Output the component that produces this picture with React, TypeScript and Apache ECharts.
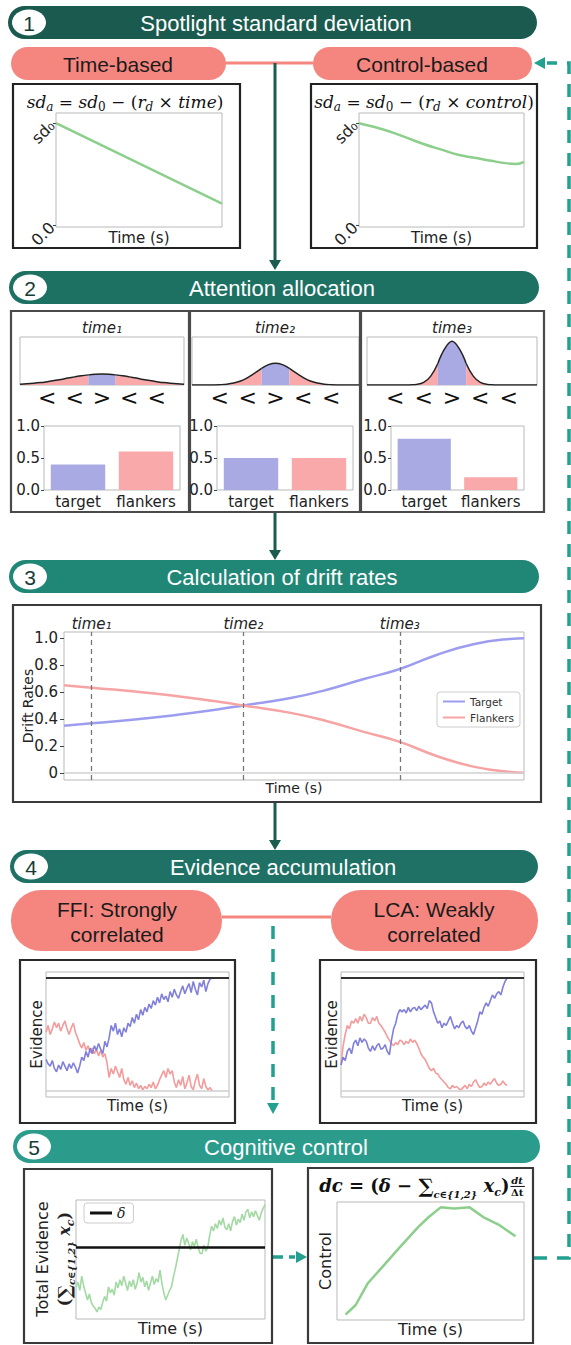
import React, { useEffect, useRef } from "react";
import * as echarts from "echarts";

// ---------------- data ----------------
const sdTime = [0, 1];
const sdTimeBased = [1.0, 0.21];
const sdControlTime = [0, 0.1, 0.2, 0.3, 0.4, 0.5, 0.6, 0.7, 0.8, 0.9, 0.95, 1.0];
const sdControlBased = [1.0, 0.96, 0.91, 0.85, 0.79, 0.74, 0.69, 0.66, 0.63, 0.605, 0.6, 0.62];
const sdTicks = [0, 1];
const sdTickLabels = ["0.0", "sd₀"];

const stimulusX = [-3, -2.75, -2.5, -2.25, -2, -1.75, -1.5, -1.25, -1, -0.75, -0.5, -0.25, 0, 0.25, 0.5, 0.75, 1, 1.25, 1.5, 1.75, 2, 2.25, 2.5, 2.75, 3];
const attentionTime1 = [0.018, 0.027, 0.039, 0.055, 0.077, 0.101, 0.128, 0.158, 0.186, 0.212, 0.232, 0.246, 0.25, 0.246, 0.232, 0.212, 0.186, 0.158, 0.128, 0.101, 0.077, 0.055, 0.039, 0.027, 0.018];
const attentionTime2 = [0, 0, 0, 0.002, 0.007, 0.018, 0.044, 0.092, 0.17, 0.272, 0.382, 0.467, 0.5, 0.467, 0.382, 0.272, 0.17, 0.092, 0.044, 0.018, 0.007, 0.002, 0, 0, 0];
const attentionTime3 = [0, 0, 0, 0, 0, 0, 0.002, 0.012, 0.059, 0.203, 0.493, 0.838, 1.0, 0.838, 0.493, 0.203, 0.059, 0.012, 0.002, 0, 0, 0, 0, 0, 0];
const targetHalfWidth = 0.5;
const stimulusPositions = [-2, -1, 0, 1, 2];
const stimulusArrows = ["<", "<", ">", "<", "<"];
const barCategories = ["target", "flankers"];
const allocationTime1 = [0.4, 0.6];
const allocationTime2 = [0.5, 0.5];
const allocationTime3 = [0.8, 0.2];
const timeLabels = ["time₁", "time₂", "time₃"];

const driftTime = [0, 0.06, 0.18, 0.26, 0.34, 0.39, 0.49, 0.57, 0.65, 0.73, 0.81, 0.89, 0.97, 1.0];
const driftTarget = [0.35, 0.368, 0.405, 0.437, 0.474, 0.5, 0.553, 0.615, 0.694, 0.77, 0.874, 0.953, 0.993, 0.998];
const driftFlankers = [0.65, 0.632, 0.595, 0.563, 0.526, 0.5, 0.447, 0.385, 0.306, 0.23, 0.126, 0.047, 0.007, 0.002];
const markerTimes = [0.06, 0.39, 0.73];
const driftTicks = [0, 0.2, 0.4, 0.6, 0.8, 1.0];

const ffiTarget = [
  0.28, 0.24, 0.22, 0.27, 0.2, 0.17, 0.23, 0.19, 0.26, 0.22,
  0.18, 0.24, 0.2, 0.25, 0.21, 0.16, 0.22, 0.3, 0.27, 0.35,
  0.3, 0.38, 0.33, 0.4, 0.36, 0.42, 0.37, 0.33, 0.44, 0.39,
  0.47, 0.58, 0.53, 0.6, 0.5, 0.55, 0.48, 0.56, 0.52, 0.6,
  0.57, 0.65, 0.6, 0.68, 0.63, 0.72, 0.67, 0.74, 0.7, 0.77,
  0.73, 0.8, 0.76, 0.83, 0.78, 0.86, 0.81, 0.84, 0.79, 0.88,
  0.83, 0.9, 0.85, 0.82, 0.88, 0.93, 0.86, 0.91, 0.95, 0.87,
  0.97, 0.9, 0.85, 0.96, 0.92, 0.98, 0.88, 0.95, 0.99, 1.0,
];
const ffiFlankers = [
  0.52, 0.58, 0.5, 0.55, 0.61, 0.56, 0.6, 0.53, 0.58, 0.62,
  0.55, 0.5, 0.56, 0.6, 0.52, 0.47, 0.42, 0.38, 0.43, 0.36,
  0.4, 0.34, 0.38, 0.33, 0.37, 0.31, 0.36, 0.3, 0.33, 0.25,
  0.12, 0.2, 0.15, 0.22, 0.17, 0.12, 0.2, 0.1, 0.06, 0.12,
  0.05, 0.09, 0.03, 0.07, 0.02, 0.05, 0.01, 0.04, 0.02, 0.06,
  0.03, 0.08, 0.02, 0.05, 0.1, 0.14, 0.18, 0.12, 0.2, 0.15,
  0.18, 0.08, 0.03, 0.1, 0.05, 0.13, 0.02, 0.07, 0.14, 0.04,
  0.01, 0.09, 0.15, 0.05, 0.02, 0.11, 0.04, 0.01, 0.03, 0.0,
];
const lcaTarget = [
  0.23, 0.3, 0.27, 0.35, 0.38, 0.33, 0.42, 0.45, 0.4, 0.47,
  0.43, 0.46, 0.44, 0.38, 0.35, 0.4, 0.36, 0.4, 0.42, 0.37,
  0.38, 0.41, 0.35, 0.32, 0.45, 0.55, 0.6, 0.68, 0.72, 0.7,
  0.72, 0.69, 0.74, 0.7, 0.73, 0.74, 0.71, 0.75, 0.72, 0.74,
  0.76, 0.73, 0.8, 0.78, 0.7, 0.65, 0.6, 0.62, 0.56, 0.6,
  0.58, 0.62, 0.66, 0.6, 0.55, 0.58, 0.56, 0.6, 0.62, 0.57,
  0.55, 0.58, 0.53, 0.5, 0.56, 0.62, 0.7, 0.68, 0.74, 0.78,
  0.75, 0.8, 0.85, 0.82, 0.86, 0.88, 0.85, 0.92, 0.97, 1.0,
];
const lcaFlankers = [
  0.23, 0.4, 0.5, 0.58, 0.55, 0.62, 0.6, 0.64, 0.6, 0.66,
  0.62, 0.68, 0.65, 0.6, 0.6, 0.65, 0.62, 0.66, 0.6, 0.58,
  0.55, 0.52, 0.48, 0.45, 0.42, 0.4, 0.43, 0.41, 0.45, 0.44,
  0.41, 0.44, 0.42, 0.46, 0.43, 0.45, 0.42, 0.38, 0.33, 0.3,
  0.28, 0.24, 0.2, 0.18, 0.2, 0.16, 0.15, 0.12, 0.1, 0.08,
  0.06, 0.03, 0.02, 0.05, 0.03, 0.04, 0.02, 0.01, 0.03, 0.05,
  0.02, 0.06, 0.04, 0.08, 0.1, 0.06, 0.03, 0.04, 0.07, 0.05,
  0.08, 0.06, 0.09, 0.11, 0.07, 0.05, 0.06, 0.09, 0.06, 0.05,
];
const evidenceThreshold = 1;

const totalEvidence = [
  0.27, 0.31, 0.24, 0.36, 0.28, 0.22, 0.16, 0.21, 0.14, 0.11,
  0.09, 0.06, 0.1, 0.08, 0.14, 0.19, 0.15, 0.27, 0.22, 0.25,
  0.2, 0.31, 0.26, 0.33, 0.28, 0.36, 0.3, 0.24, 0.32, 0.27,
  0.33, 0.25, 0.3, 0.39, 0.31, 0.35, 0.27, 0.32, 0.24, 0.3,
  0.36, 0.29, 0.34, 0.31, 0.41, 0.3, 0.22, 0.16, 0.2, 0.24,
  0.27, 0.35, 0.42, 0.5, 0.58, 0.66, 0.71, 0.62, 0.68, 0.64,
  0.58, 0.65, 0.61, 0.67, 0.6, 0.55, 0.55, 0.62, 0.57, 0.6,
  0.7, 0.78, 0.74, 0.8, 0.76, 0.83, 0.79, 0.85, 0.77, 0.75,
  0.8, 0.74, 0.82, 0.86, 0.79, 0.84, 0.81, 0.88, 0.83, 0.9,
  0.92, 0.85, 0.9, 0.86, 0.91, 0.87, 0.83, 0.89, 0.93, 0.96,
];
const deltaThreshold = 0.6;

const controlTime = [0, 0.06, 0.13, 0.22, 0.32, 0.43, 0.49, 0.56, 0.64, 0.73, 0.81, 0.9, 1.0];
const controlValue = [0, 0.09, 0.29, 0.45, 0.63, 0.82, 0.91, 1.0, 0.99, 1.0, 0.91, 0.84, 0.73];

// ---------------- styles ----------------
const SANS = "DejaVu Sans";
const HEAD = "Liberation Sans";
const SERIF = "DejaVu Serif";
const PURPLE = "#a9a9e3";
const PINK = "#f9a9a9";
const LINE_BLUE = "#9d9def";
const LINE_PINK = "#f7a3a3";
const EV_BLUE = "#8080dc";
const EV_PINK = "#f49b9b";
const GREEN = "#8ccf8c";
const GREEN_LIGHT = "#a3daa3";
const PILL = "#f5867f";
const TEAL_DARK = "#1b5c51";
const TEAL_DASH = "#22a090";

const gridDefs = [
  [56, 113, 222, 227],
  [359, 113, 524, 227],
  [20, 337, 184, 385],
  [192, 337, 359, 385],
  [367, 337, 537, 385],
  [44, 426, 180, 490],
  [217, 426, 353, 490],
  [391, 426, 524, 490],
  [64, 632, 524, 780],
  [46, 972, 229, 1097],
  [341, 972, 524, 1097],
  [76, 1200, 265, 1319],
  [337, 1202, 524, 1320],
];

type Piece = { t?: string; size?: number; it?: boolean; dy?: number; frac?: [string, string] };

function mathRow(pieces: Piece[], x: number, y: number, base: number, opts: { rotation?: number; weight?: string; color?: string } = {}) {
  const ctx = document.createElement("canvas").getContext("2d")!;
  const weight = opts.weight ?? "normal";
  const color = opts.color ?? "#111";
  const kids: any[] = [];
  let cx = 0;
  const fontOf = (size: number, it: boolean) => `${it ? "italic" : "normal"} ${weight} ${size}px "${SERIF}"`;
  const txt = (t: string, px: number, py: number, size: number, it: boolean, va: string, align = "left") => ({
    type: "text",
    x: px,
    y: py,
    style: { text: t, fontFamily: SERIF, fontSize: size, fontStyle: it ? "italic" : "normal", fontWeight: weight, fill: color, align, verticalAlign: va },
  });
  for (const p of pieces) {
    const size = p.size ?? base;
    if (p.frac) {
      ctx.font = fontOf(size, true);
      const w = Math.max(ctx.measureText(p.frac[0]).width, ctx.measureText(p.frac[1]).width) + 3;
      const bar = -base * 0.42;
      kids.push(txt(p.frac[0], cx + w / 2, bar - 0.5, size, true, "bottom", "center"));
      kids.push(txt(p.frac[1], cx + w / 2, bar + 1, size, false, "top", "center"));
      kids.push({ type: "line", shape: { x1: cx + 1, y1: bar, x2: cx + w, y2: bar }, style: { stroke: color, lineWidth: 1 } });
      cx += w;
    } else {
      const it = !!p.it;
      ctx.font = fontOf(size, it);
      const w = ctx.measureText(p.t!).width;
      kids.push(txt(p.t!, cx, p.dy ?? 0, size, it, "bottom"));
      cx += w;
    }
  }
  const off = -cx / 2;
  kids.forEach((k) => {
    if (k.type === "line") {
      k.shape.x1 += off;
      k.shape.x2 += off;
    } else k.x += off;
  });
  return { type: "group", x, y, rotation: opts.rotation ?? 0, children: kids };
}

function buildOption() {
  const hidden = { axisLine: { show: false }, axisTick: { show: false }, axisLabel: { show: false }, splitLine: { show: false } };
  const nameStyle = (size: number) => ({ fontFamily: SANS, fontSize: size, color: "#222" });
  const grid = gridDefs.map(([l, t, r, b]) => ({
    left: l, top: t, width: r - l, height: b - t, show: true, borderColor: "#b9b9b9", borderWidth: 1, containLabel: false, outerBoundsMode: "none",
  }));
  const xAxis: any[] = [];
  const yAxis: any[] = [];
  const series: any[] = [];

  // 1. spotlight sd
  for (const gi of [0, 1]) {
    xAxis.push({ gridIndex: gi, type: "value", min: 0, max: 1, ...hidden, name: "Time (s)", nameLocation: "middle", nameGap: 3, nameMoveOverlap: false, nameTextStyle: nameStyle(15) });
    yAxis.push({
      gridIndex: gi, type: "value", min: -0.02, max: 1.1, axisLine: { show: false }, splitLine: { show: false },
      axisTick: { show: true, customValues: sdTicks, length: 3, lineStyle: { color: "#444" } },
      axisLabel: { show: true, customValues: sdTicks, rotate: 45, margin: 4, formatter: (v: number) => sdTickLabels[sdTicks.indexOf(v)], fontFamily: SANS, fontSize: 16, color: "#222" },
    });
  }
  series.push({ type: "line", xAxisIndex: 0, yAxisIndex: 0, data: sdTime.map((t, i) => [t, sdTimeBased[i]]), showSymbol: false, silent: true, lineStyle: { color: GREEN, width: 2.5 } });
  series.push({ type: "line", xAxisIndex: 1, yAxisIndex: 1, smooth: true, data: sdControlTime.map((t, i) => [t, sdControlBased[i]]), showSymbol: false, silent: true, lineStyle: { color: GREEN, width: 2.5 } });

  // 2. attention allocation
  const attention = [attentionTime1, attentionTime2, attentionTime3];
  const allocations = [allocationTime1, allocationTime2, allocationTime3];
  attention.forEach((vals, k) => {
    const gi = 2 + k;
    xAxis.push({
      gridIndex: gi, type: "value", min: -3, max: 3, axisLine: { show: false }, splitLine: { show: false }, axisTick: { show: false },
      axisLabel: { show: true, customValues: stimulusPositions, formatter: (v: number) => stimulusArrows[stimulusPositions.indexOf(v)], fontFamily: SANS, fontSize: 22, color: "#111", margin: 1 },
    });
    yAxis.push({ gridIndex: gi, type: "value", min: 0, max: 1.1, ...hidden });
    const pts = stimulusX.map((x, i) => [x, vals[i]]);
    const segs = [
      { d: pts.filter((p) => p[0] <= -targetHalfWidth), c: PINK },
      { d: pts.filter((p) => p[0] >= -targetHalfWidth && p[0] <= targetHalfWidth), c: PURPLE },
      { d: pts.filter((p) => p[0] >= targetHalfWidth), c: PINK },
    ];
    segs.forEach((s) =>
      series.push({ type: "line", xAxisIndex: gi, yAxisIndex: gi, data: s.d, smooth: 0.4, showSymbol: false, silent: true, lineStyle: { color: "#222", width: 1.5 }, areaStyle: { color: s.c, opacity: 1 } })
    );
  });
  allocations.forEach((vals, k) => {
    const gi = 5 + k;
    xAxis.push({ gridIndex: gi, type: "category", data: barCategories, axisLine: { show: false }, axisTick: { show: false }, splitLine: { show: false }, axisLabel: { interval: 0, fontFamily: SANS, fontSize: 15, color: "#222", margin: 4 } });
    yAxis.push({
      gridIndex: gi, type: "value", min: 0, max: 1, interval: 0.5, axisLine: { show: false }, splitLine: { show: false },
      axisTick: { show: true, length: 3, lineStyle: { color: "#444" } },
      axisLabel: { formatter: (v: number) => v.toFixed(1), fontFamily: SANS, fontSize: 15, color: "#222", margin: 4 },
    });
    series.push({ type: "bar", xAxisIndex: gi, yAxisIndex: gi, barWidth: "80%", silent: true, data: vals.map((v, i) => ({ value: v, itemStyle: { color: i === 0 ? PURPLE : PINK } })) });
  });

  // 3. drift rates
  xAxis.push({ gridIndex: 8, type: "value", min: 0, max: 1, ...hidden, name: "Time (s)", nameLocation: "middle", nameGap: 1, nameMoveOverlap: false, nameTextStyle: nameStyle(14) });
  yAxis.push({
    gridIndex: 8, type: "value", min: -0.052, max: 1.044, axisLine: { show: false }, splitLine: { show: false },
    axisTick: { show: true, customValues: driftTicks, length: 4, lineStyle: { color: "#444" } },
    axisLabel: { show: true, customValues: driftTicks, formatter: (v: number) => (v === 0 ? "0" : v.toFixed(1)), fontFamily: SANS, fontSize: 15, color: "#222", margin: 6 },
    name: "Drift Rates", nameLocation: "middle", nameGap: 29, nameMoveOverlap: false, nameTextStyle: nameStyle(14),
  });
  series.push({
    type: "line", name: "Target", xAxisIndex: 8, yAxisIndex: 8, smooth: true, showSymbol: false, silent: true,
    data: driftTime.map((t, i) => [t, driftTarget[i]]), lineStyle: { color: LINE_BLUE, width: 2.5 }, itemStyle: { color: LINE_BLUE }, z: 3,
    markLine: {
      silent: true, symbol: ["none", "none"], animation: false,
      lineStyle: { color: "#777", type: [5, 4], width: 1.3 },
      label: { show: true, position: "end", distance: 1, fontFamily: SANS, fontStyle: "italic", fontSize: 15, color: "#222" },
      data: markerTimes.map((t, i) => ({ xAxis: t, label: { formatter: timeLabels[i] } })),
    },
  });
  series.push({
    type: "line", name: "Flankers", xAxisIndex: 8, yAxisIndex: 8, smooth: true, showSymbol: false, silent: true,
    data: driftTime.map((t, i) => [t, driftFlankers[i]]), lineStyle: { color: LINE_PINK, width: 2.5 }, itemStyle: { color: LINE_PINK }, z: 3,
    markLine: { silent: true, symbol: ["none", "none"], label: { show: false }, lineStyle: { color: "#d0d0d0", type: "solid", width: 1.5 }, data: [{ yAxis: 0 }] },
  });

  // 4. evidence accumulation
  const evid = [
    { gi: 9, t: ffiTarget, f: ffiFlankers },
    { gi: 10, t: lcaTarget, f: lcaFlankers },
  ];
  evid.forEach(({ gi, t, f }) => {
    xAxis.push({ gridIndex: gi, type: "value", min: 0, max: 87, ...hidden, name: "Time (s)", nameLocation: "middle", nameGap: 1, nameMoveOverlap: false, nameTextStyle: nameStyle(15) });
    yAxis.push({ gridIndex: gi, type: "value", min: -0.053, max: 1.053, ...hidden, name: "Evidence", nameLocation: "middle", nameGap: 2, nameMoveOverlap: false, nameTextStyle: nameStyle(15) });
    series.push({
      type: "line", xAxisIndex: gi, yAxisIndex: gi, showSymbol: false, silent: true, data: f.map((v, i) => [i, v]), lineStyle: { color: EV_PINK, width: 1.6 },
      markLine: {
        silent: true, symbol: ["none", "none"], label: { show: false },
        data: [
          { yAxis: evidenceThreshold, lineStyle: { color: "#333", width: 2, type: "solid" } },
          { yAxis: 0, lineStyle: { color: "#cfcfcf", width: 1.5, type: "solid" } },
        ],
      },
    });
    series.push({ type: "line", xAxisIndex: gi, yAxisIndex: gi, showSymbol: false, silent: true, data: t.map((v, i) => [i, v]), lineStyle: { color: EV_BLUE, width: 1.6 } });
  });

  // 5. cognitive control
  xAxis.push({ gridIndex: 11, type: "value", min: 0, max: totalEvidence.length - 1, ...hidden, name: "Time (s)", nameLocation: "middle", nameGap: 1, nameMoveOverlap: false, nameTextStyle: nameStyle(16) });
  yAxis.push({ gridIndex: 11, type: "value", min: 0, max: 1, ...hidden });
  series.push({ type: "line", xAxisIndex: 11, yAxisIndex: 11, showSymbol: false, silent: true, data: totalEvidence.map((v, i) => [i, v]), lineStyle: { color: GREEN_LIGHT, width: 1.6 } });
  series.push({
    type: "line", name: "δ", xAxisIndex: 11, yAxisIndex: 11, showSymbol: false, silent: true,
    data: [[0, deltaThreshold], [totalEvidence.length - 1, deltaThreshold]], lineStyle: { color: "#111", width: 2.5 }, itemStyle: { color: "#111" },
  });
  xAxis.push({ gridIndex: 12, type: "value", min: -0.05, max: 1.05, ...hidden, name: "Time (s)", nameLocation: "middle", nameGap: 1, nameMoveOverlap: false, nameTextStyle: nameStyle(16) });
  yAxis.push({ gridIndex: 12, type: "value", min: -0.05, max: 1.05, ...hidden, name: "Control", nameLocation: "middle", nameGap: 4, nameMoveOverlap: false, nameTextStyle: nameStyle(16) });
  series.push({ type: "line", xAxisIndex: 12, yAxisIndex: 12, showSymbol: false, silent: true, data: controlTime.map((t, i) => [t, controlValue[i]]), lineStyle: { color: GREEN, width: 2.5 } });

  const legend = [
    {
      data: ["Target", "Flankers"], left: 437, top: 692, orient: "vertical", icon: "rect", itemWidth: 22, itemHeight: 2, itemGap: 5,
      textStyle: { fontFamily: SANS, fontSize: 10.5, color: "#333" }, borderColor: "#cccccc", borderWidth: 1, borderRadius: 3, padding: [4, 6, 4, 6], selectedMode: false,
    },
    {
      data: ["δ"], left: 84, top: 1203, icon: "rect", itemWidth: 22, itemHeight: 3,
      textStyle: { fontFamily: SERIF, fontStyle: "italic", fontSize: 14, color: "#222" }, borderColor: "#cccccc", borderWidth: 1, borderRadius: 3, padding: [3, 8, 3, 6], selectedMode: false,
    },
  ];

  // ---------------- graphic decorations ----------------
  const el: any[] = [];
  const headers = [
    { x: 8, y: 6, w: 529, color: "#1b5b4f", n: "1", title: "Spotlight standard deviation", tx: 276 },
    { x: 9, y: 271, w: 530, color: "#1d7163", n: "2", title: "Attention allocation", tx: 282 },
    { x: 9, y: 560, w: 530, color: "#208676", n: "3", title: "Calculation of drift rates", tx: 282 },
    { x: 10, y: 850, w: 528, color: "#1e7164", n: "4", title: "Evidence accumulation", tx: 283 },
    { x: 13, y: 1130, w: 527, color: "#2b9c8c", n: "5", title: "Cognitive control", tx: 286 },
  ];
  const HH = 33;
  headers.forEach((h) => {
    el.push({ type: "rect", shape: { x: h.x, y: h.y, width: h.w, height: HH, r: HH / 2 }, style: { fill: h.color } });
    el.push({ type: "ellipse", shape: { cx: h.x + 21, cy: h.y + HH / 2, rx: 17, ry: 13 }, style: { fill: "#fff" } });
    el.push({ type: "text", x: h.x + 21, y: h.y + HH / 2 + 1, style: { text: h.n, fontFamily: HEAD, fontSize: 21, fill: "#163c35", align: "center", verticalAlign: "middle" } });
    el.push({ type: "text", x: h.tx, y: h.y + HH / 2 + 1, style: { text: h.title, fontFamily: HEAD, fontSize: 22, fill: "#ffffff", align: "center", verticalAlign: "middle" } });
  });

  // connectors
  el.push({ type: "line", shape: { x1: 226, y1: 63, x2: 313, y2: 63 }, style: { stroke: PILL, lineWidth: 3 } });
  el.push({ type: "line", shape: { x1: 222, y1: 917, x2: 331, y2: 917 }, style: { stroke: PILL, lineWidth: 3 } });
  // pills
  const pills = [
    { x: 11, y: 47, w: 215, h: 33, text: "Time-based", cx: 118 },
    { x: 313, y: 47, w: 219, h: 33, text: "Control-based", cx: 422 },
    { x: 11, y: 890, w: 211, h: 61, text: "FFI: Strongly\ncorrelated", cx: 117 },
    { x: 331, y: 890, w: 207, h: 61, text: "LCA: Weakly\ncorrelated", cx: 434 },
  ];
  pills.forEach((p) => {
    el.push({ type: "rect", shape: { x: p.x, y: p.y, width: p.w, height: p.h, r: Math.min(p.h / 2, 30) }, style: { fill: PILL } });
    el.push({ type: "text", x: p.cx, y: p.y + p.h / 2 + 1, style: { text: p.text, fontFamily: HEAD, fontSize: 21, lineHeight: 25, fill: "#1b1b1b", align: "center", verticalAlign: "middle" } });
  });

  // solid teal arrows
  const solid = [
    [63, 262, 270],
    [512, 552, 560],
    [802, 842, 850],
  ];
  solid.forEach(([y1, y2, tip]) => {
    el.push({ type: "line", shape: { x1: 275, y1, x2: 275, y2 }, style: { stroke: TEAL_DARK, lineWidth: 3 } });
    el.push({ type: "polygon", shape: { points: [[269, tip - 10], [281, tip - 10], [275, tip]] }, style: { fill: TEAL_DARK } });
  });
  // dashed teal arrows
  const dash = [13, 10];
  el.push({ type: "polyline", shape: { points: [[534, 1258], [569, 1258], [569, 63], [547, 63]] }, style: { stroke: TEAL_DASH, lineWidth: 3.5, lineDash: dash, fill: null } });
  el.push({ type: "polygon", shape: { points: [[545, 57], [545, 69], [534, 63]] }, style: { fill: TEAL_DASH } });
  el.push({ type: "line", shape: { x1: 273, y1: 926, x2: 273, y2: 1100 }, style: { stroke: TEAL_DASH, lineWidth: 3.5, lineDash: dash } });
  el.push({ type: "polygon", shape: { points: [[267, 1103], [279, 1103], [273, 1114]] }, style: { fill: TEAL_DASH } });
  el.push({ type: "line", shape: { x1: 273, y1: 1257, x2: 295, y2: 1257 }, style: { stroke: TEAL_DASH, lineWidth: 3.5, lineDash: [10, 6] } });
  el.push({ type: "polygon", shape: { points: [[296, 1251], [296, 1263], [307, 1257]] }, style: { fill: TEAL_DASH } });

  // panel boxes
  const boxes = [
    [13, 84, 240, 248, "#222"],
    [311, 84, 537, 248, "#222"],
    [11, 311, 189, 512, "#4a4a4a"],
    [190, 311, 360, 512, "#4a4a4a"],
    [361, 311, 544, 512, "#4a4a4a"],
    [13, 605, 541, 802, "#3a3a3a"],
    [20, 960, 235, 1123, "#2a2a2a"],
    [320, 960, 536, 1123, "#2a2a2a"],
    [24, 1169, 272, 1343, "#3a3a3a"],
    [308, 1168, 533, 1343, "#3a3a3a"],
  ] as [number, number, number, number, string][];
  boxes.forEach(([l, t, r, b, c]) => el.push({ type: "rect", shape: { x: l, y: t, width: r - l, height: b - t }, style: { fill: "none", stroke: c, lineWidth: 2.2 } }));

  // attention time labels
  [102, 275, 452].forEach((x, i) =>
    el.push({ type: "text", x, y: 328, style: { text: timeLabels[i], fontFamily: SANS, fontStyle: "italic", fontSize: 15, fill: "#222", align: "center", verticalAlign: "middle" } })
  );

  // formulas
  const sub = 12;
  const sdFormula = (last: string): Piece[] => [
    { t: "sd", it: true }, { t: "a", it: true, size: sub, dy: 3 }, { t: " = " }, { t: "sd", it: true }, { t: "0", size: sub, dy: 3 },
    { t: " − (" }, { t: "r", it: true }, { t: "d", it: true, size: sub, dy: 3 }, { t: " × " }, { t: last, it: true }, { t: ")" },
  ];
  el.push(mathRow(sdFormula("time"), 125, 110, 17));
  el.push(mathRow(sdFormula("control"), 424, 110, 17));
  el.push(
    mathRow(
      [
        { t: "dc", it: true }, { t: " = (" }, { t: "δ", it: true }, { t: " − " }, { t: "∑", size: 20, dy: 2 }, { t: "c∈{1,2}", it: true, size: 10, dy: 5 },
        { t: " x", it: true }, { t: "c", it: true, size: 11, dy: 4 }, { t: ")" }, { frac: ["dt", "Δt"], size: 10 },
      ],
      422, 1194, 18, { weight: "bold" }
    )
  );
  el.push({ type: "text", x: 42, y: 1259, rotation: Math.PI / 2, style: { text: "Total Evidence", fontFamily: SANS, fontSize: 16, fill: "#222", align: "center", verticalAlign: "middle" } });
  el.push(
    mathRow(
      [{ t: "(" }, { t: "∑", size: 18, dy: 1 }, { t: "c∈{1,2}", it: true, size: 10, dy: 4 }, { t: " x", it: true }, { t: "c", it: true, size: 11, dy: 4 }, { t: ")" }],
      72, 1259, 16, { rotation: Math.PI / 2, weight: "bold", color: "#222" }
    )
  );

  return {
    animation: false,
    backgroundColor: "#ffffff",
    grid,
    xAxis,
    yAxis,
    series,
    legend,
    graphic: { elements: el },
  };
}

export default function App() {
  const ref = useRef<HTMLDivElement>(null);
  useEffect(() => {
    document.body.style.margin = "0";
    const chart = echarts.init(ref.current!, null, { renderer: "svg" });
    chart.setOption(buildOption() as any);
    return () => chart.dispose();
  }, []);
  return <div ref={ref} style={{ width: 571, height: 1345, position: "absolute", left: 0, top: 0, background: "#fff" }} />;
}
